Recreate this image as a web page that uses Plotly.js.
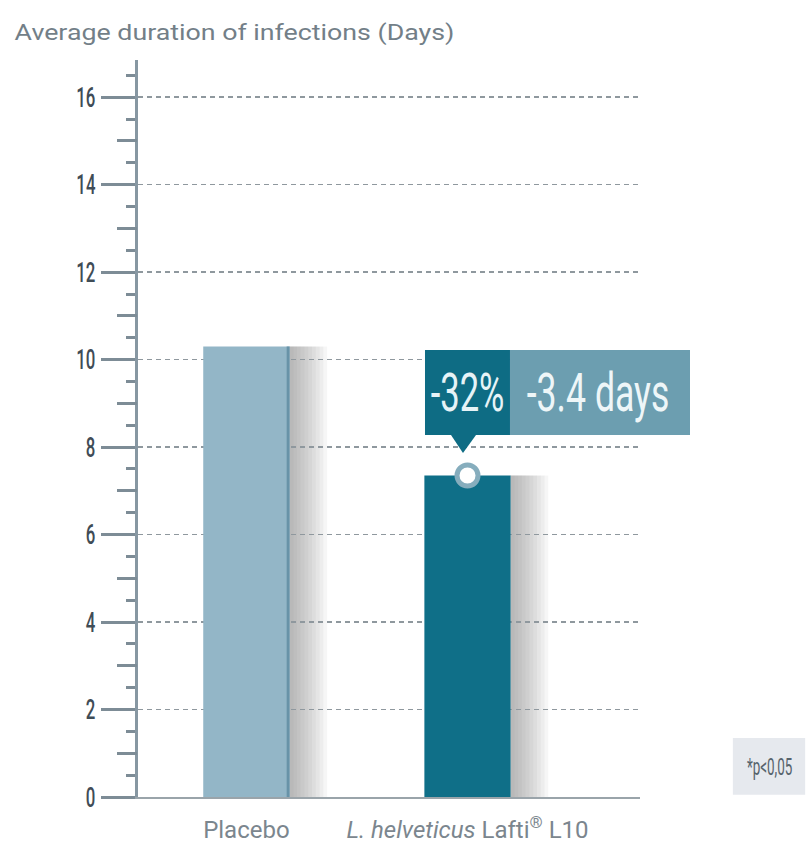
<!DOCTYPE html>
<html>
<head>
<meta charset="utf-8">
<script src="https://cdn.plot.ly/plotly-3.0.1.min.js"></script>
<style>html,body{margin:0;padding:0;background:#fff;}#chart{width:812px;height:846px;}</style>
</head>
<body>
<div id="chart"></div>
<script>
// ---- data ----
const categories = ['Placebo', 'L. helveticus Lafti® L10'];
const categoryLabels = ['Placebo', '<i>L. helveticus</i> Lafti<sup>®</sup> L10'];
const durationDays = [10.3, 7.35];
const yTickVals = [0, 2, 4, 6, 8, 10, 12, 14, 16];
const yTickText = ['0', '2', '4', '6', '8', '10', '12', '14', '16'];
const yMidTickVals = [1, 3, 5, 7, 9, 11, 13, 15];
const reductionPct = '-32%';
const reductionDays = '-3.4 days';
const pValueText = '*p<0,05';
const titleText = 'Average duration of infections (Days)';

const baseFont = 'Roboto, sans-serif';
const barColors = ['#93b6c7', '#0f6f88'];
const barWidth = 0.39;

// shadows built from the data values
const shapes = [];
const nShadow = 10, shadowW = 0.17;
durationDays.forEach((v, i) => {
  const edge = i + barWidth / 2;
  for (let k = 1; k <= nShadow; k++) {
    shapes.push({type: 'rect', xref: 'x', yref: 'y', layer: 'below',
      x0: edge, x1: edge + shadowW * k / nShadow, y0: 0, y1: v,
      fillcolor: 'rgba(120,120,120,0.065)', line: {width: 0}});
  }
});
// darker right edge on placebo bar
shapes.push({type: 'line', xref: 'x', yref: 'y', x0: barWidth / 2 - 0.006, x1: barWidth / 2 - 0.006,
  y0: 0, y1: durationDays[0], line: {color: '#6893a8', width: 3}});

// callout box (paper coords)
shapes.push({type: 'rect', xref: 'paper', yref: 'paper', x0: 0.5717, x1: 0.7410, y0: 0.4912, y1: 0.6065,
  fillcolor: '#0e6c84', line: {width: 0}});
shapes.push({type: 'rect', xref: 'paper', yref: 'paper', x0: 0.7410, x1: 1.0996, y0: 0.4912, y1: 0.6065,
  fillcolor: '#6c9eb0', line: {width: 0}});
shapes.push({type: 'path', xref: 'paper', yref: 'paper',
  path: 'M 0.6235 0.4913 L 0.6733 0.4913 L 0.6474 0.4668 Z', fillcolor: '#0e6c84', line: {width: 0}});
// p-value box
shapes.push({type: 'rect', xref: 'paper', yref: 'paper', x0: 1.185, x1: 1.329, y0: 0.003, y1: 0.080,
  fillcolor: '#e6e9ee', line: {width: 0}});

const traces = [
  {type: 'bar', x: [0, 1], y: durationDays, width: barWidth,
   marker: {color: barColors, line: {width: 0}}, hoverinfo: 'skip', xaxis: 'x', yaxis: 'y'},
  {type: 'scatter', mode: 'markers', x: [1], y: [durationDays[1]],
   marker: {symbol: 'circle', size: 21, color: '#ffffff', line: {color: '#86adbd', width: 5}},
   hoverinfo: 'skip', xaxis: 'x', yaxis: 'y', cliponaxis: false},
  {type: 'scatter', mode: 'markers', x: [0], y: [0], marker: {opacity: 0}, xaxis: 'x', yaxis: 'y2', hoverinfo: 'skip'}
];

const layout = {
  width: 812, height: 846,
  margin: {l: 138, r: 172, t: 60, b: 49},
  paper_bgcolor: '#ffffff', plot_bgcolor: 'rgba(0,0,0,0)',
  showlegend: false,
  title: {text: titleText, x: 0.018, xanchor: 'left', xref: 'container', y: 0.962, yanchor: 'middle', yref: 'container',
    font: {family: baseFont, size: 22, color: '#737f88'}},
  xaxis: {type: 'linear', range: [-0.49, 1.78], tickvals: [0, 1], ticktext: categoryLabels,
    showgrid: false, zeroline: false, showline: true, linecolor: '#9aa4aa', linewidth: 2,
    ticks: 'outside', ticklen: 10, tickcolor: 'rgba(0,0,0,0)',
    tickfont: {family: baseFont, size: 24, color: '#7b868e'}, fixedrange: true},
  yaxis: {range: [0, 16.85], tickvals: yTickVals, ticktext: yTickText,
    showgrid: true, gridcolor: '#8f989e', griddash: '5px,4px', gridwidth: 1.5, zeroline: false,
    showline: true, linecolor: '#8797a2', linewidth: 3,
    ticks: 'outside', ticklen: 34, tickwidth: 3, tickcolor: '#7d8c96',
    minor: {dtick: 0.5, tick0: 0, ticks: 'outside', ticklen: 9, tickwidth: 3, tickcolor: '#7d8c96', showgrid: false},
    tickfont: {family: baseFont, size: 28, color: '#3f4c56', weight: 500}, ticklabelstandoff: 0, fixedrange: true},
  yaxis2: {range: [0, 16.85], overlaying: 'y', side: 'left', anchor: 'x', tickvals: yMidTickVals,
    showticklabels: false, showgrid: false, zeroline: false, showline: false,
    ticks: 'outside', ticklen: 20, tickwidth: 3, tickcolor: '#7d8c96', fixedrange: true},
  shapes: shapes,
  annotations: [
    {xref: 'paper', yref: 'paper', x: 0.6554, y: 0.5495, text: reductionPct, showarrow: false,
     font: {family: baseFont, size: 54, color: '#e6f3f7'}, xanchor: 'center', yanchor: 'middle'},
    {xref: 'paper', yref: 'paper', x: 0.9163, y: 0.5495, text: reductionDays, showarrow: false,
     font: {family: baseFont, size: 54, color: '#eef6f8'}, xanchor: 'center', yanchor: 'middle'},
    {xref: 'paper', yref: 'paper', x: 1.257, y: 0.041, text: pValueText, showarrow: false,
     font: {family: baseFont, size: 24, color: '#56636c'}, xanchor: 'center', yanchor: 'middle'}
  ]
};

// horizontally condense a text element around an anchor
function squeeze(el, s, anchor) {
  const bb = el.getBBox();
  let cx = bb.x + bb.width / 2;
  if (anchor === 'right') cx = bb.x + bb.width;
  if (anchor === 'left') cx = bb.x;
  const prev = el.getAttribute('transform') || '';
  el.setAttribute('transform', prev + ' translate(' + cx + ',0) scale(' + s + ',1) translate(' + (-cx) + ',0)');
}

Plotly.newPlot('chart', traces, layout, {staticPlot: true, displayModeBar: false}).then(function (gd) {
  gd.querySelectorAll('.yaxislayer-above .ytick text').forEach(t => squeeze(t, 0.6, 'right'));
  const ann = gd.querySelectorAll('.annotation-text');
  if (ann[0]) squeeze(ann[0], 0.64, 'center');
  if (ann[1]) squeeze(ann[1], 0.66, 'center');
  if (ann[2]) squeeze(ann[2], 0.56, 'center');
  const title = gd.querySelector('.gtitle');
  if (title) {
    const w = title.getBBox().width;
    if (w > 0) squeeze(title, 440 / w, 'left');
  }
});
</script>
</body>
</html>
